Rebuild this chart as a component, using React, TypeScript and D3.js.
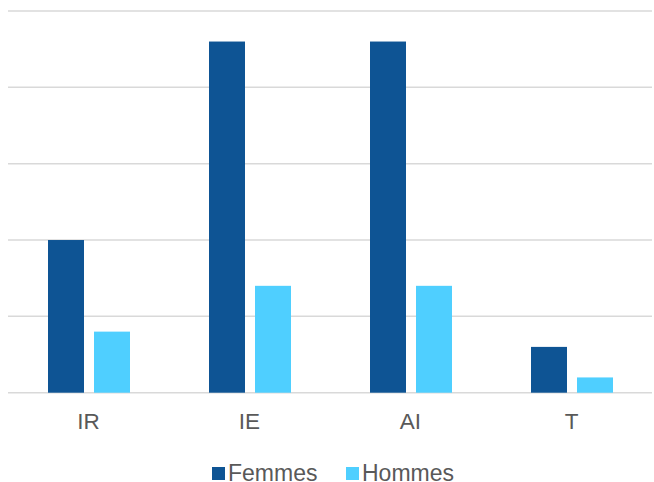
import React from "react";
import * as d3 from "d3";

const categories = ["IR", "IE", "AI", "T"];
const seriesNames = ["Femmes", "Hommes"];
const femmes = [10, 23, 23, 3];
const hommes = [4, 7, 7, 1];
const yTicks = [0, 5, 10, 15, 20, 25];
const colors = ["#0E5494", "#4FCFFF"];

export default function App() {
  const W = 654, H = 482;
  const x = d3.scaleBand<string>().domain(categories).range([8, 652]);
  const xs = d3.scaleBand<string>().domain(seriesNames).range([40, 122]).paddingInner(0.2174);
  const y = d3.scaleLinear().domain([0, 25]).range([392.7, 11]);
  const values = [femmes, hommes];
  const font = "'Liberation Sans', Arial, sans-serif";
  const legendX = [212, 346];
  return (
    <svg width={W} height={H} style={{ position: "absolute", left: 0, top: 0, display: "block", background: "#fff" }}>
      {yTicks.map((t) => (
        <line key={t} x1={8} x2={652} y1={y(t)} y2={y(t)} stroke="#D9D9D9" strokeWidth={1.5} />
      ))}
      {seriesNames.map((s, si) =>
        categories.map((c, ci) => (
          <rect
            key={s + c}
            x={(x(c) as number) + (xs(s) as number)}
            y={y(values[si][ci])}
            width={xs.bandwidth()}
            height={y(0) - y(values[si][ci])}
            fill={colors[si]}
          />
        ))
      )}
      {categories.map((c) => (
        <text
          key={c}
          x={(x(c) as number) + x.bandwidth() / 2}
          y={429}
          textAnchor="middle"
          fontFamily={font}
          fontSize={22.5}
          fill="#595959"
        >
          {c}
        </text>
      ))}
      {seriesNames.map((s, i) => {
        const lx = legendX[i];
        return (
          <g key={s}>
            <rect x={lx} y={467} width={13} height={13} fill={colors[i]} />
            <text x={lx + 16} y={481} fontFamily={font} fontSize={23} fill="#595959">
              {s}
            </text>
          </g>
        );
      })}
    </svg>
  );
}
